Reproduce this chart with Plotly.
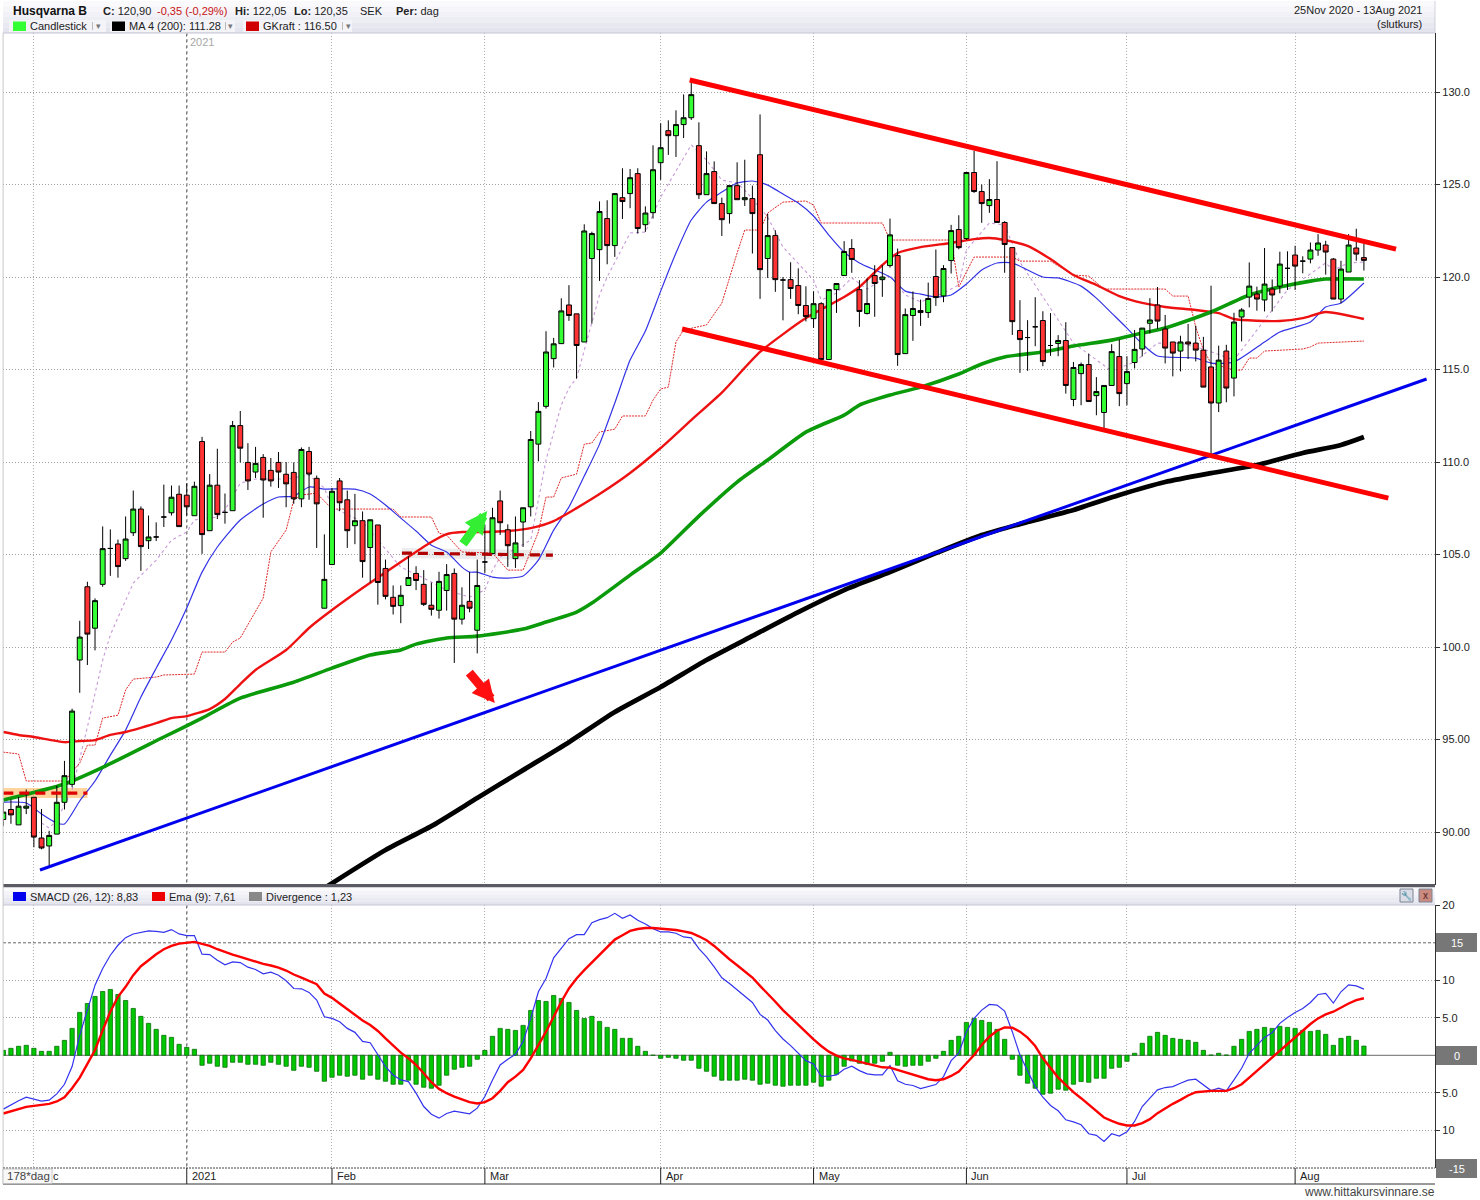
import plotly.graph_objects as go

# ---------- price data (daily candles, index = trading day on the chart) ----------
opens = [90.68,91.22,90.39,91.29,91.88,89.68,89.25,89.89,91.61,92.58,
 99.30,103.26,101.02,103.39,105.33,105.57,104.78,106.18,107.46,105.75,
 105.95,107.03,107.26,108.26,108.21,107.10,111.11,106.29,108.75,107.28,
 107.37,111.97,109.98,109.46,110.25,109.55,109.98,109.34,109.44,108.01,
 110.57,109.12,102.10,104.46,108.98,107.96,106.56,106.83,105.38,106.60,
 104.25,102.69,102.24,103.33,103.98,103.39,102.26,101.99,103.06,103.98,
 101.51,102.47,100.91,104.60,105.05,107.90,106.34,104.78,106.76,107.58,
 110.97,113.01,115.59,116.40,118.49,118.01,116.49,121.00,121.48,123.16,
 121.70,124.29,124.51,125.59,122.83,123.48,126.18,127.91,127.64,128.24,
 128.61,127.10,124.45,125.70,123.97,123.43,124.94,124.18,124.24,126.61,
 121.00,122.24,119.84,119.86,119.54,118.46,117.75,118.56,115.54,119.32,
 120.08,121.54,119.32,118.03,120.08,119.86,120.62,121.16,115.86,117.92,
 118.19,118.08,120.03,118.98,120.89,122.57,122.08,125.65,124.62,123.86,
 124.19,122.95,121.59,117.11,116.73,117.31,117.65,116.30,116.41,116.57,
 113.38,114.78,115.27,113.59,112.68,114.14,115.70,114.24,115.38,116.11,
 117.50,118.49,117.19,116.49,116.00,116.49,116.43,116.05,115.14,113.19,
 116.00,114.54,117.84,118.92,119.08,118.76,119.35,119.51,120.47,121.19,
 120.86,120.97,121.46,121.73,120.97,118.81,120.27,121.57,121.05]
highs = [91.60,91.76,91.90,92.30,91.88,91.25,90.07,92.51,93.85,96.67,
 101.42,103.53,102.63,106.52,106.36,105.81,107.06,108.46,107.60,107.11,
 106.74,108.78,108.73,108.73,108.85,108.94,111.36,109.35,110.72,108.30,
 112.22,112.76,111.02,110.82,110.43,110.22,110.54,110.00,109.98,110.79,
 110.82,109.27,106.09,108.60,109.14,108.46,108.28,107.33,106.88,106.60,
 104.73,103.33,103.33,104.91,104.37,104.16,103.49,104.07,104.48,104.25,
 103.23,104.05,104.73,106.63,107.53,108.46,106.63,107.06,107.53,111.68,
 113.24,117.07,116.71,118.85,119.56,118.01,122.85,122.45,124.09,124.15,
 124.51,125.88,125.84,125.88,123.82,127.12,128.31,128.47,129.01,129.87,
 130.63,128.36,126.79,126.25,124.29,124.94,126.20,126.34,124.94,128.79,
 123.43,122.53,120.00,120.80,120.47,119.50,119.23,118.64,119.32,119.65,
 121.94,122.05,119.83,119.92,120.64,120.64,123.16,121.54,118.30,119.22,
 118.78,119.70,121.49,120.64,122.82,123.34,125.65,126.82,125.00,125.29,
 126.26,123.02,121.59,118.75,117.67,118.91,118.15,118.05,116.86,117.56,
 115.41,115.38,115.86,114.59,114.14,116.37,116.62,115.72,117.14,117.24,
 118.86,119.46,117.95,116.49,116.83,117.46,117.37,116.77,119.53,116.29,
 116.34,118.07,118.32,120.79,119.48,121.57,119.87,121.37,121.39,121.69,
 121.12,121.87,122.32,121.96,121.03,120.88,122.32,122.61,122.05]
lows = [90.32,90.45,90.39,90.97,89.18,89.07,88.12,89.89,91.22,92.42,
 97.53,99.03,99.82,103.26,103.85,103.75,104.66,106.00,104.12,105.30,
 105.73,106.49,107.11,106.51,107.11,107.10,105.04,106.29,106.92,106.67,
 107.37,109.98,108.49,109.14,106.99,108.67,108.60,107.56,107.74,107.56,
 107.96,105.36,102.10,104.46,107.35,105.36,105.56,103.75,103.48,102.29,
 102.58,101.76,101.29,103.33,103.08,102.22,101.70,101.54,101.97,99.14,
 101.22,101.88,99.66,104.01,105.05,106.06,104.34,104.28,105.41,107.06,
 110.04,112.89,115.11,116.40,117.63,114.51,116.49,117.48,119.79,120.69,
 121.09,123.14,123.72,122.35,122.44,123.16,125.25,126.60,126.49,127.51,
 128.49,124.22,124.45,123.97,122.22,122.89,124.18,123.84,121.27,118.82,
 119.95,119.20,117.66,118.82,117.99,117.60,117.25,115.45,115.54,118.06,
 120.08,120.23,117.31,117.97,117.85,118.93,120.51,115.20,115.86,116.55,
 117.36,117.79,118.44,118.64,120.19,121.50,122.00,124.55,122.93,123.47,
 122.95,120.23,116.87,114.82,114.93,116.26,115.18,115.74,115.72,113.70,
 113.02,113.07,113.27,112.53,111.77,114.14,113.02,113.07,115.06,115.71,
 116.95,117.19,115.33,114.63,114.90,115.57,115.44,114.05,110.40,112.70,
 113.23,113.55,116.52,118.36,118.18,118.14,118.14,119.12,119.30,119.30,
 120.20,120.74,121.15,120.13,118.81,118.58,120.27,120.88,120.35]
closes = [91.08,90.93,91.40,91.40,89.73,89.14,89.82,91.61,93.05,96.54,
 100.54,100.70,102.51,105.32,105.33,104.35,105.84,107.46,105.43,105.95,
 105.95,107.03,108.10,106.51,107.58,108.69,106.08,108.75,107.17,107.28,
 111.97,110.75,108.98,109.93,109.03,108.98,109.46,108.82,108.01,110.68,
 109.35,107.74,103.66,108.42,107.80,106.29,106.83,104.62,106.88,103.49,
 102.74,102.20,102.80,103.76,103.60,102.31,102.04,103.55,103.92,101.51,
 102.26,102.10,103.33,104.60,106.99,106.72,105.48,105.63,107.53,111.22,
 112.74,115.95,116.39,118.17,117.92,116.30,122.49,122.35,123.54,121.70,
 124.51,124.08,125.37,122.62,123.46,125.80,126.99,127.64,128.24,128.61,
 129.86,124.45,125.59,123.97,123.10,124.94,124.18,124.29,123.43,120.40,
 122.24,119.86,119.84,119.38,118.46,117.86,118.56,115.54,119.32,119.65,
 121.38,120.95,118.14,118.57,119.65,120.00,122.28,115.81,117.97,118.30,
 118.08,118.84,118.89,120.46,122.51,121.59,125.65,124.62,123.97,124.19,
 122.95,121.76,117.59,116.62,116.73,117.31,115.43,116.30,116.57,114.14,
 115.11,115.27,113.27,113.81,114.14,115.97,113.70,114.89,116.09,117.24,
 117.68,117.62,116.16,115.89,116.49,116.38,116.05,114.05,113.19,115.51,
 114.00,117.57,118.22,119.51,118.81,119.62,119.03,120.70,120.47,120.59,
 120.86,121.46,121.84,121.35,118.81,120.43,121.73,121.24,120.90]
day_index = list(range(len(closes)))

# ---------- moving averages ----------
ma_green_days = [0,8,13,21,26,31,38,43,48,52,54,58,62,68,71,75,77,82,86,91,96,100,105,110,112,116,120,125,128,131,136,140,145,149,152,158,163,167,171,173,178]
ma_green = [91.73,92.6,93.5,95.14,96.16,97.24,98.1,98.86,99.57,99.84,100.16,100.49,100.59,100.97,101.35,101.89,102.38,103.89,105.08,107.08,108.92,110.11,111.62,112.54,113.08,113.62,114.05,114.76,115.3,115.68,115.95,116.27,116.59,116.97,117.24,118.11,119.03,119.46,119.78,119.89,119.89]

ma_red_days = [0,2,4,8,10,12,14,16,20,22,24,27,29,31,33,37,40,43,47,52,56,58,60,63,66,69,72,75,78,82,86,90,94,99,105,110,112,115,117,120,124,127,129,131,134,137,140,143,146,149,152,156,159,161,167,170,173,178]
ma_red = [95.41,95.25,95.14,94.86,94.92,94.97,95.25,95.41,95.89,96.16,96.27,96.65,97.19,98.0,98.76,99.84,101.03,102.0,103.19,104.6,105.68,106.11,106.22,106.22,106.27,106.43,106.81,107.51,108.27,109.41,110.76,112.27,113.75,115.95,117.78,118.92,119.46,120.65,121.3,121.62,121.84,122.05,122.11,122.0,121.68,120.97,120.11,119.57,118.97,118.6,118.38,118.22,118.05,117.73,117.62,117.78,118.11,117.73]

ma_blue_days = [0,3,5,7,8,10,12,14,16,18,20,22,24,26,28,31,34,36,38,40,42,46,48,50,52,54,56,58,60,61,62,64,66,68,70,72,74,76,78,80,82,84,86,88,90,92,94,96,98,100,102,104,106,108,110,112,116,118,120,122,124,126,128,130,132,136,138,141,143,145,147,149,151,156,158,161,165,167,171,173,175,178]
ma_blue = [91.62,91.57,90.98,90.49,90.44,91.68,92.76,94.16,95.51,97.3,98.86,100.38,102.11,104.05,105.41,106.87,107.73,108.11,108.16,108.65,108.54,108.54,108.27,107.68,106.97,106.27,105.51,105.14,104.32,104.05,104.05,103.78,103.73,103.84,104.7,106.32,107.57,109.24,110.97,113.19,115.51,117.08,119.24,121.3,123.08,124.05,124.59,125.08,125.19,124.97,124.49,124.0,123.3,122.27,121.35,120.76,120.0,119.24,119.08,118.92,119.03,119.62,120.38,120.76,120.76,120.0,119.95,119.51,118.86,118.05,117.24,116.38,115.73,115.62,115.35,115.41,116.49,117.03,117.57,118.38,118.6,119.68]

ma_purple_days = [5,6,7,9,11,13,14,17,20,22,24,25,28,29,31,33,37,40,42,43,47,49,52,55,58,61,63,64,65,69,71,73,74,75,78,79,82,84,86,90,92,94,96,97,100,102,106,107,109,111,113,116,118,120,123,125,126,129,131,133,136,138,140,145,148,151,154,157,161,165,168,173,174,176,178]
ma_purple = [90.49,90.22,90.65,92.27,95.68,99.3,100.65,103.46,104.7,105.78,106.22,106.87,107.03,107.41,108.86,109.08,109.08,109.3,108.59,107.57,106.76,105.78,104.32,103.73,103.08,102.7,103.08,104.16,104.86,105.78,110.11,113.08,114.0,114.54,119.03,120.0,122.38,122.43,124.32,127.14,126.32,125.24,125.08,124.7,123.24,121.62,119.84,118.76,119.14,119.95,119.35,120.11,119.03,118.65,119.14,119.57,121.46,122.92,122.81,120.81,118.97,117.68,116.43,114.92,115.41,116.43,116.43,116.11,115.51,117.68,119.3,120.76,120.38,120.76,120.81]

gkraft_days = [0,2,3,8,10,11,12,13,15,16,17,20,21,25,26,29,30,31,34,35,37,38,39,41,43,51,52,56,57,58,60,64,66,68,70,71,72,73,75,76,77,78,80,81,84,85,86,87,88,89,92,94,96,97,99,100,102,105,106,107,115,116,124,125,127,132,133,137,140,142,144,152,153,155,156,157,158,161,162,163,164,165,170,171,172,177,178]
gkraft = [94.32,94.22,92.76,92.76,93.73,94.7,94.7,96.16,96.32,97.68,98.27,98.38,98.49,98.54,99.73,99.73,100.27,100.49,102.65,105.14,106.32,107.95,108.22,108.32,107.46,107.46,107.03,107.03,106.16,106.05,105.14,105.08,104.16,104.16,106.22,108.11,108.11,109.14,109.35,110.97,111.03,111.62,111.78,112.49,112.49,113.35,113.95,114.05,116.49,117.14,117.41,118.59,121.3,122.54,122.54,123.46,124.05,124.11,123.89,122.92,122.92,122.0,122.0,119.46,121.08,121.08,120.86,120.86,120.11,120.05,119.35,119.35,118.97,118.97,117.3,116.05,115.35,114.97,114.97,115.62,115.62,116.0,116.11,116.22,116.43,116.49,116.54]

ma200_days = [42,50,56,62,68,74,80,86,92,98,104,110,116,122,128,134,140,146,152,158,164,170,175,178]
ma200 = [86.97,89.03,90.32,91.84,93.35,94.86,96.49,97.84,99.3,100.6,101.89,103.08,104.05,105.08,106.05,106.76,107.41,108.22,108.92,109.4,109.84,110.49,110.92,111.35]

# ---------- hand-drawn trend lines (day, price) ----------
trend_blue_days, trend_blue = [4.8,186.2], [87.95,114.49]
chan_top_days, chan_top = [89.8,182.2], [130.65,121.51]
chan_low_days, chan_low = [88.8,181.2], [117.19,108.05]
support_days, support = [52.15,71.9], [105.08,104.97]
resist_days, resist = [0,11], [92.11,92.11]

# ---------- SMACD panel ----------
smacd = [-7.18,-6.6,-6.07,-5.59,-5.81,-6.12,-5.98,-5.14,-3.86,-1.5,2.7,6.03,9.35,11.57,13.34,14.67,15.69,16.18,16.4,16.58,
 16.53,16.4,16.76,16.18,15.96,15.96,13.48,13.43,12.68,12.06,12.46,12.37,11.75,11.44,10.86,11.08,10.68,9.93,8.91,8.87,
 8.38,7.36,5.14,4.92,4.48,3.59,3.06,1.86,1.68,0.04,-1.5,-2.62,-3.28,-3.5,-5.05,-6.83,-7.85,-8.38,-7.76,-7.45,
 -7.62,-7.8,-7.05,-5.5,-3.28,-1.29,-0.53,0.13,1.82,4.92,8.47,10.24,12.99,14.23,15.56,16.09,16.09,17.69,18.09,18.35,
 18.93,18.26,18.71,18.0,17.51,16.89,16.45,16.45,16.27,15.78,15.65,14.23,13.12,11.79,10.33,9.57,8.69,7.93,7.05,5.45,
 4.7,3.28,2.17,1.29,0.27,-0.71,-1.15,-2.79,-2.79,-2.62,-1.86,-1.46,-2.04,-2.48,-2.62,-2.62,-1.37,-3.41,-3.86,-4.03,
 -4.43,-4.17,-3.9,-2.84,-0.71,0.27,3.15,4.92,6.03,6.78,6.69,5.9,3.15,0.04,-2.17,-4.17,-5.59,-6.69,-7.4,-8.6,
 -8.87,-9.26,-10.46,-10.68,-11.48,-10.46,-10.77,-10.2,-8.82,-6.83,-5.72,-4.61,-4.3,-4.17,-3.72,-3.32,-3.19,-3.95,-4.7,-4.39,
 -4.74,-3.28,-1.73,0.27,1.37,2.39,3.01,4.26,5.05,5.72,6.25,7.05,8.11,8.24,6.96,8.47,9.4,9.26,8.83]
ema9 = [-7.76,-7.46,-7.16,-6.87,-6.74,-6.6,-6.47,-6.16,-5.59,-4.39,-2.97,-1.15,0.71,3.32,5.81,7.8,9.13,10.68,11.88,12.68,
 13.48,14.14,14.58,14.89,15.03,15.12,14.85,14.58,14.14,13.74,13.43,13.12,12.81,12.46,12.19,11.97,11.7,11.3,10.77,10.37,
 9.97,9.49,8.24,7.66,6.91,6.16,5.36,4.65,4.03,3.24,2.26,1.29,0.35,-0.4,-1.29,-2.39,-3.59,-4.48,-5.05,-5.5,
 -5.9,-6.25,-6.43,-6.25,-5.72,-4.74,-3.59,-2.84,-1.95,-0.4,1.37,3.15,5.14,7.14,8.91,10.24,11.35,12.37,13.43,14.54,
 15.43,16.0,16.58,16.84,16.98,16.98,16.89,16.84,16.71,16.53,16.31,15.87,15.34,14.58,13.65,12.81,12.01,11.21,10.37,9.26,
 8.24,7.14,6.03,5.05,4.03,3.06,2.13,1.24,0.49,-0.04,-0.4,-0.62,-0.84,-1.06,-1.33,-1.6,-1.64,-1.95,-2.3,-2.66,
 -2.97,-3.19,-3.32,-3.19,-2.75,-2.17,-1.06,0.04,1.37,2.48,3.28,3.72,3.68,3.15,2.35,1.24,-0.4,-1.73,-2.97,-3.95,
 -4.92,-5.72,-6.6,-7.49,-8.29,-8.73,-9.13,-9.35,-9.35,-9.04,-8.51,-7.71,-7.05,-6.47,-5.94,-5.36,-4.92,-4.79,-4.74,-4.74,
 -4.74,-4.39,-3.86,-2.97,-2.08,-1.15,-0.27,0.71,1.6,2.48,3.28,4.17,4.92,5.45,5.81,6.38,6.91,7.36,7.61]
divergence = [0.66,0.93,1.2,1.33,0.93,0.53,0.53,1.2,1.99,3.59,5.72,6.91,7.85,8.51,8.78,8.11,7.31,6.25,5.19,4.26,
 3.46,2.66,2.39,1.46,1.06,0.8,-1.33,-1.06,-1.46,-1.6,-0.93,-0.93,-1.2,-1.2,-1.33,-0.93,-1.2,-1.46,-2.0,-1.46,
 -1.6,-2.13,-3.46,-2.93,-2.66,-2.79,-2.66,-3.19,-2.66,-3.19,-3.46,-3.86,-3.86,-3.32,-3.86,-4.26,-4.39,-3.99,-2.66,-1.86,
 -1.6,-1.46,-0.53,0.66,2.53,3.59,3.46,3.32,3.99,5.98,7.31,7.18,7.98,7.58,7.05,5.98,4.92,5.19,4.52,3.72,
 3.46,2.26,2.26,1.2,0.53,0.02,-0.4,-0.27,-0.4,-0.66,-0.66,-1.73,-2.13,-2.79,-3.32,-3.32,-3.32,-3.19,-3.32,-3.86,
 -3.72,-3.99,-4.12,-3.99,-3.99,-3.99,-3.59,-4.12,-3.32,-2.53,-1.46,-0.75,-1.06,-1.2,-1.06,-0.8,0.4,-1.33,-1.46,-1.33,
 -1.33,-0.8,-0.4,0.53,1.99,2.53,4.39,4.92,4.65,4.39,3.46,2.13,-0.53,-2.66,-3.72,-4.39,-5.19,-5.05,-4.52,-4.65,
 -3.86,-3.5,-3.59,-3.06,-3.06,-1.73,-1.6,-0.8,0.27,1.6,2.53,3.06,2.66,2.26,2.13,2.0,1.73,0.66,0.04,0.27,
 0.04,1.2,2.13,3.19,3.46,3.72,3.59,3.86,3.72,3.59,3.32,3.19,3.32,2.79,1.33,2.26,2.53,2.0,1.23]

# ---------- axis labels ----------
month_days = [4,24,43,63,86,106,126,147,169]
month_labels = ["c","2021","Feb","Mar","Apr","May","Jun","Jul","Aug"]
price_ticks = [90,95,100,105,110,115,120,125,130]
price_labels = ["90.00","95.00","100.0","105.0","110.0","115.0","120.0","125.0","130.0"]
macd_ticks = [20,10,5,-5,-10]
macd_labels = ["20","10","5.0","5.0","10"]
macd_boxes = [15,0,-15]

W, H = 1480, 1200
FONT = "Liberation Sans"
def px(v): return v / W
def py(v): return 1 - v / H

fig = go.Figure()

def line(xs, ys, color, width, dash="solid", yaxis="y", xaxis="x", spline=False):
    fig.add_trace(go.Scatter(x=xs, y=ys, mode="lines", xaxis=xaxis, yaxis=yaxis,
                             line=dict(color=color, width=width, dash=dash, shape="spline" if spline else "linear", smoothing=0.6),
                             hoverinfo="skip", showlegend=False))

# lines under the candles
line(resist_days, resist, "rgba(255,170,60,0.5)", 10)
line(support_days, support, "rgba(170,170,170,0.22)", 10)
line(ma_purple_days, ma_purple, "#c89ad8", 1.1, "dot")
line(gkraft_days, gkraft, "#e02828", 1, "2px,1px")
line(ma_blue_days, ma_blue, "#3333e6", 1.2, spline=True)
line(ma_red_days, ma_red, "#ee1111", 2.4, spline=True)
line(ma_green_days, ma_green, "#0a9a0a", 3.6, spline=True)

fig.add_trace(go.Candlestick(x=day_index, open=opens, high=highs, low=lows, close=closes,
    xaxis="x", yaxis="y3", whiskerwidth=0,
    increasing=dict(fillcolor="#33ff33", line=dict(color="#000000", width=1)),
    decreasing=dict(fillcolor="#ff3333", line=dict(color="#000000", width=1)),
    hoverinfo="skip", showlegend=False))

line(ma200_days, ma200, "#000000", 4.8, yaxis="y4", spline=True)
line(trend_blue_days, trend_blue, "#0000ee", 3, yaxis="y4")
line(chan_top_days, chan_top, "#ff0000", 5, yaxis="y4")
line(chan_low_days, chan_low, "#ff0000", 5, yaxis="y4")
line(support_days, support, "#b00000", 3.2, "10px,6px", yaxis="y4")
line(resist_days, resist, "#e00000", 3.2, "10px,6px", yaxis="y4")

# MACD panel
fig.add_trace(go.Bar(x=day_index, y=divergence, xaxis="x2", yaxis="y2", width=0.56,
    marker=dict(color="#00c800", line=dict(color="#0a700a", width=0.8)), hoverinfo="skip", showlegend=False))
line(day_index, smacd, "#3333ee", 1.2, xaxis="x2", yaxis="y2")
line(day_index, ema9, "#ff0000", 2.4, xaxis="x2", yaxis="y2")

xrange = [-0.04, 187.3]
xa = dict(range=xrange, tickvals=month_days, showticklabels=False, ticks="", showgrid=True, griddash="1px,2px",
          gridcolor="#b0b0b0", gridwidth=1, zeroline=False, rangeslider=dict(visible=False), fixedrange=True)
main_dom = [py(885), py(33)]
low_dom = [py(1167.8), py(905.3)]
yr = [87.14, 133.19]
tf = dict(family=FONT, size=11, color="#222")

shapes, annos = [], []
def rect(x0, y0, x1, y1, fill, line_c=None, layer="above", lw=1):
    shapes.append(dict(type="rect", xref="paper", yref="paper", x0=px(x0), x1=px(x1), y0=py(y0), y1=py(y1),
                       fillcolor=fill, line=dict(color=line_c or fill, width=lw if line_c else 0), layer=layer))
def text(x, y, s, size=11, color="#222", anchor="left"):
    annos.append(dict(xref="paper", yref="paper", x=px(x), y=py(y), text=s, showarrow=False, xanchor=anchor, yanchor="middle",
                      font=dict(family=FONT, size=size, color=color), borderpad=0, borderwidth=0))
def hbar(x0, y0, x1, y1, c0, c1, n=5):
    h = (y1 - y0) / n
    for k in range(n):
        t = k / (n - 1)
        col = "rgb(%d,%d,%d)" % tuple(round(a + (b - a) * t) for a, b in zip(c0, c1))
        rect(x0, y0 + k * h, x1, y0 + (k + 1) * h, col)

# header strips
hbar(3, 1, 1435, 33, (250, 250, 253), (228, 228, 238), 6)
rect(3, 32.4, 1435, 33.4, "#c6c6d6")
rect(1434.6, 1, 1435.4, 33, "#c6c6d6")
for a, b in [(9, 106), (110, 235), (243, 352)]:
    rect(a, 20, b, 32, "#f3f3f8")
rect(3, 884, 1435, 887.5, "#5a5a62")
hbar(3, 887.5, 1435, 905, (250, 250, 253), (228, 228, 238), 5)
rect(3, 904.6, 1435, 905.6, "#c6c6d6")

text(13, 11, "<b>Husqvarna B</b>", 12, "#111")
text(103, 11, "<b>C:</b> 120,90", 11, "#222")
text(157, 11, "-0,35 (-0,29%)", 11, "#c81414")
text(235, 11, "<b>Hi:</b> 122,05", 11, "#222")
text(294, 11, "<b>Lo:</b> 120,35", 11, "#222")
text(360, 11, "SEK", 11, "#222")
text(396, 11, "<b>Per:</b> dag", 11, "#222")
text(1422, 10, "25Nov 2020 - 13Aug 2021", 11, "#222", "right")
text(1422, 24, "(slutkurs)", 11, "#222", "right")

for sx, col, tx, label, ax_ in [(13, "#33ff33", 30, "Candlestick", 92), (112, "#000000", 129, "MA 4 (200): 111.28", 225), (246, "#d00000", 263, "GKraft : 116.50", 342)]:
    rect(sx, 21.5, sx + 13, 31, col)
    text(tx, 26, label, 11, "#222")
    rect(ax_, 22, ax_ + 0.8, 30, "#aaaaaa")
    text(ax_ + 6, 26, "▾", 9, "#777", "center")

for sx, col, tx, label in [(13, "#0000ee", 30, "SMACD (26, 12): 8,83"), (152, "#ee0000", 169, "Ema (9): 7,61"), (249, "#888888", 266, "Divergence : 1,23")]:
    rect(sx, 892, sx + 13, 901, col)
    text(tx, 896.5, label, 11, "#222")

# panel tool icons
rect(1400, 889, 1413, 902, "#dadde6", "#7d8494")
text(1406.5, 895.5, "🔧", 9, "#667", "center")
rect(1419, 889, 1432, 902, "#c98a80", "#7d8494")
text(1425.5, 895.5, "x", 10, "#552222", "center")

text(190, 42, "2021", 11, "#a8a8a8")
rect(2.6, 33, 3.6, 1184, "#c8c8c8")

# reference lines of the MACD panel
shapes.append(dict(type="line", xref="x2", yref="y2", x0=xrange[0], x1=xrange[1], y0=15, y1=15, layer="below", line=dict(color="#666", width=1, dash="3px,2px")))
shapes.append(dict(type="line", xref="x2", yref="y2", x0=xrange[0], x1=xrange[1], y0=0, y1=0, layer="below", line=dict(color="#888", width=1.2)))
# year line
shapes.append(dict(type="line", xref="x", yref="paper", x0=24, x1=24, y0=py(33), y1=py(884), layer="below", line=dict(color="#777", width=1.4, dash="dot")))
shapes.append(dict(type="line", xref="x2", yref="paper", x0=24, x1=24, y0=py(905), y1=py(1168), layer="below", line=dict(color="#777", width=1.4, dash="dot")))

# date strip
shapes.append(dict(type="line", xref="paper", yref="paper", x0=px(3), x1=px(1435), y0=py(1168), y1=py(1168), line=dict(color="#444", width=1, dash="2px,1px")))
shapes.append(dict(type="line", xref="paper", yref="paper", x0=px(3), x1=px(1435), y0=py(1184), y1=py(1184), line=dict(color="#333", width=1)))
for d, lab in zip(month_days, month_labels):
    if d != month_days[0]:
        shapes.append(dict(type="line", xref="x2", yref="paper", x0=d, x1=d, y0=py(1168), y1=py(1184), line=dict(color="#222", width=1)))
        annos.append(dict(xref="x2", yref="paper", x=d, y=py(1176), text=lab, xshift=3, showarrow=False, xanchor="left", yanchor="middle", font=dict(family=FONT, size=11, color="#222")))
text(52.5, 1176, month_labels[0], 11, "#222")
rect(3, 1169, 52, 1183.5, "#f8f8f8", "#bbbbbb", lw=0.8)
text(7, 1176, "178*dag", 11.5, "#444")

# right-hand grey value boxes
for v, y0, y1 in zip(macd_boxes, (933, 1046, 1159), (952, 1065, 1178)):
    rect(1436, y0, 1477, y1, "#777777")
    text(1456.5, (y0 + y1) / 2, str(v), 11, "#ffffff", "center")

text(1435, 1192, "www.hittakursvinnare.se", 12, "#444", "right")

# drawn arrows
annos.append(dict(x=63.3, y=107.35, ax=60.0, ay=105.5, xref="x", yref="y", axref="x", ayref="y", text="", showarrow=True,
                  arrowhead=2, arrowsize=0.5, arrowwidth=9, arrowcolor="#33ee33"))
annos.append(dict(x=64.3, y=96.98, ax=60.8, ay=98.7, xref="x", yref="y", axref="x", ayref="y", text="", showarrow=True,
                  arrowhead=2, arrowsize=0.5, arrowwidth=9, arrowcolor="#ff0f0f"))

fig.update_layout(
    width=W, height=H, margin=dict(l=0, r=0, t=0, b=0, autoexpand=False), paper_bgcolor="#ffffff", plot_bgcolor="#ffffff",
    showlegend=False, bargap=0.3, boxgap=0.08, dragmode=False,
    xaxis=dict(domain=[px(3), px(1435)], anchor="y", **xa),
    xaxis2=dict(domain=[px(3), px(1435)], anchor="y2", **xa),
    yaxis=dict(domain=main_dom, range=yr, anchor="x", side="right", tickvals=price_ticks, ticktext=price_labels,
               ticks="outside", ticklen=4, tickcolor="#333", tickfont=tf, showgrid=True, griddash="1px,2px", gridcolor="#a0a0a0",
               zeroline=False, showline=True, linecolor="#333", linewidth=1.2, fixedrange=True),
    yaxis3=dict(domain=main_dom, range=yr, overlaying="y", anchor="x", side="right", visible=False, fixedrange=True),
    yaxis4=dict(domain=main_dom, range=yr, overlaying="y", anchor="x", side="right", visible=False, fixedrange=True),
    yaxis2=dict(domain=low_dom, range=[-15, 20], anchor="x2", side="right", tickvals=macd_ticks, ticktext=macd_labels,
                ticks="outside", ticklen=4, tickcolor="#333", tickfont=tf, showgrid=True, griddash="1px,2px", gridcolor="#a0a0a0",
                zeroline=False, showline=True, linecolor="#333", linewidth=1.2, fixedrange=True),
    shapes=shapes, annotations=annos,
)

fig.write_html("out.html", config=dict(displayModeBar=False),
               post_script="document.body.style.margin='0';document.documentElement.style.overflow='hidden';")
